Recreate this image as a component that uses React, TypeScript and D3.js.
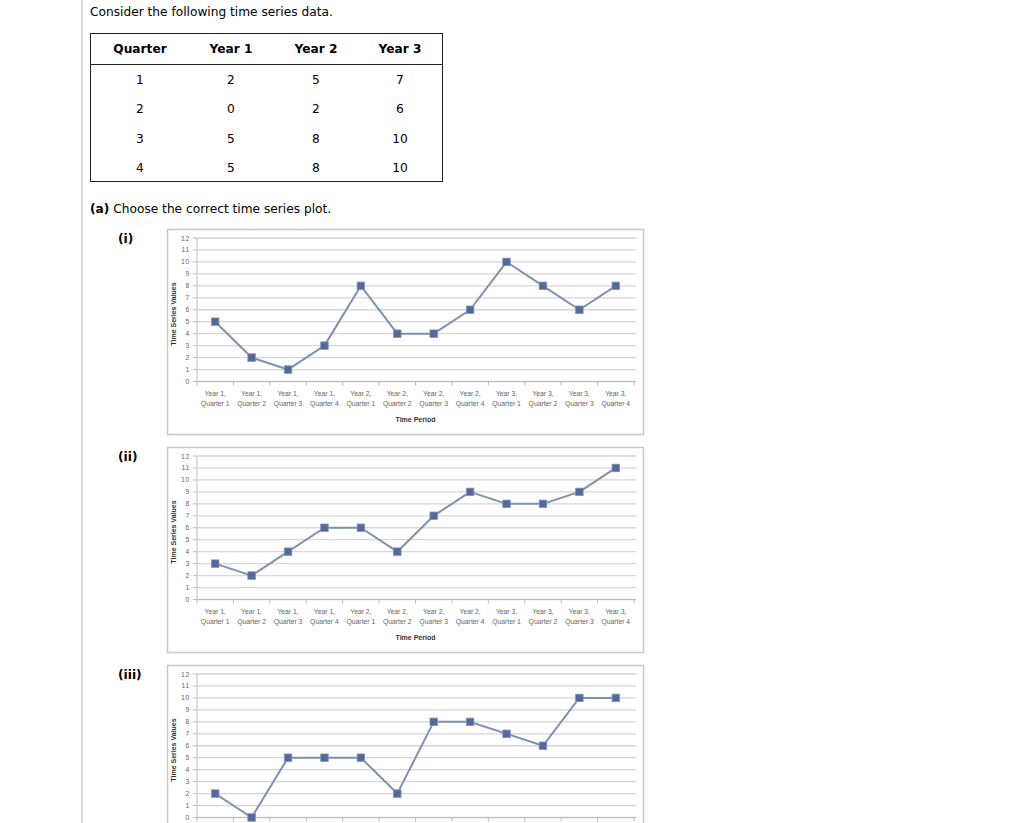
import React from "react";
import * as d3 from "d3";

const quarters = ["1", "2", "3", "4"];
const year1 = [2, 0, 5, 5];
const year2 = [5, 2, 8, 8];
const year3 = [7, 6, 10, 10];
const tableHeaders = ["Quarter", "Year 1", "Year 2", "Year 3"];

const periods = [
  ["Year 1,", "Quarter 1"], ["Year 1,", "Quarter 2"], ["Year 1,", "Quarter 3"], ["Year 1,", "Quarter 4"],
  ["Year 2,", "Quarter 1"], ["Year 2,", "Quarter 2"], ["Year 2,", "Quarter 3"], ["Year 2,", "Quarter 4"],
  ["Year 3,", "Quarter 1"], ["Year 3,", "Quarter 2"], ["Year 3,", "Quarter 3"], ["Year 3,", "Quarter 4"],
];
const seriesI = [5, 2, 1, 3, 8, 4, 4, 6, 10, 8, 6, 8];
const seriesII = [3, 2, 4, 6, 6, 4, 7, 9, 8, 8, 9, 11];
const seriesIII = [2, 0, 5, 5, 5, 2, 8, 8, 7, 6, 10, 10];
const yTicks = [0, 1, 2, 3, 4, 5, 6, 7, 8, 9, 10, 11, 12];
const chartLabels = ["(i)", "(ii)", "(iii)"];
const chartSeries = [seriesI, seriesII, seriesIII];

const PAGE_FONT = "'DejaVu Sans', Verdana, sans-serif";
const CHART_FONT = "'Liberation Sans', Arial, sans-serif";
const PAGE_H = 823;
const FS = 12.2;

function Chart({ top, data, label }: { top: number; data: number[]; label: string }) {
  const idx = periods.map((_, i) => String(i));
  const x = d3.scaleBand<string>().domain(idx).range([197, 634]);
  const y = d3.scaleLinear().domain([0, 12]).range([top + 152.5, top + 9]);
  const cx = (i: number) => (x(String(i)) as number) + x.bandwidth() / 2;
  const line = d3.line<number>().x((_, i) => cx(i)).y((d) => y(d));
  const boundaries = d3.range(13).map((k) => 197 + k * x.bandwidth());
  const showX = top + 180 < PAGE_H;
  const showTitle = top + 195 < PAGE_H;
  return (
    <g>
      <text x={118} y={top + 14} fontFamily={PAGE_FONT} fontWeight="bold" fontSize={FS} fill="#000">{label}</text>
      <rect x={167.5} y={top + 0.5} width={476} height={205} fill="#fff" stroke="#c9c9c9" strokeWidth={1.5} />
      {yTicks.map((t) => (
        <g key={t}>
          <line x1={197} x2={636} y1={y(t)} y2={y(t)} stroke="#d6d6d6" strokeWidth={1.3} />
          <line x1={193} x2={197} y1={y(t)} y2={y(t)} stroke="#bbb" strokeWidth={1} />
          <text x={190} y={y(t) + 2.5} textAnchor="end" fontFamily={CHART_FONT} fontSize={6.8} fill="#666" letterSpacing={0.7}>{t}</text>
        </g>
      ))}
      <line x1={197} x2={197} y1={y(12)} y2={y(0)} stroke="#bbb" strokeWidth={1} />
      <line x1={197} x2={636} y1={y(0)} y2={y(0)} stroke="#bbb" strokeWidth={1} />
      {boundaries.map((b, k) => (
        <line key={k} x1={b} x2={b} y1={y(0)} y2={y(0) + 4} stroke="#bbb" strokeWidth={1} />
      ))}
      {showX && periods.map((p, i) => (
        <text key={i} x={cx(i)} textAnchor="middle" fontFamily={CHART_FONT} fontSize={6.8} fill="#666">
          <tspan x={cx(i)} y={top + 167}>{p[0]}</tspan>
          <tspan x={cx(i)} y={top + 177}>{p[1]}</tspan>
        </text>
      ))}
      {showTitle && (
        <text x={415.5} y={top + 193} textAnchor="middle" fontFamily={CHART_FONT} fontWeight="bold" fontSize={7} fill="#333">Time Period</text>
      )}
      <text transform={`translate(176, ${top + 85}) rotate(-90)`} textAnchor="middle" fontFamily={CHART_FONT} fontWeight="bold" fontSize={7} fill="#333">Time Series Values</text>
      <path d={line(data) || ""} fill="none" stroke="#7f91b0" strokeWidth={2} strokeLinejoin="round" />
      {data.map((d, i) => (
        <rect key={i} x={cx(i) - 3.75} y={y(d) - 3.75} width={7.5} height={7.5} fill="#54699a" stroke="#8293b6" strokeWidth={0.8} />
      ))}
    </g>
  );
}

export default function App() {
  const colX = [140, 231, 316, 400];
  const rowY = [84, 113, 143, 172];
  const rows = quarters.map((q, i) => [q, String(year1[i]), String(year2[i]), String(year3[i])]);
  const chartTops = [229, 447, 665];
  return (
    <svg width={1024} height={PAGE_H} style={{ position: "absolute", left: 0, top: 0, background: "#fff" }}>
      <rect x={0} y={0} width={1024} height={PAGE_H} fill="#fff" />
      <line x1={82} x2={82} y1={0} y2={PAGE_H} stroke="#cfcfcf" strokeWidth={1.5} />
      <text x={90} y={16} fontFamily={PAGE_FONT} fontSize={FS} fill="#000">Consider the following time series data.</text>
      <rect x={90.5} y={33.5} width={352} height={148} fill="none" stroke="#222" strokeWidth={1} />
      <line x1={90.5} x2={442.5} y1={64.5} y2={64.5} stroke="#222" strokeWidth={1} />
      {tableHeaders.map((h, i) => (
        <text key={h} x={colX[i]} y={53} textAnchor="middle" fontFamily={PAGE_FONT} fontWeight="bold" fontSize={FS} fill="#000">{h}</text>
      ))}
      {rows.map((r, ri) =>
        r.map((c, ci) => (
          <text key={`${ri}-${ci}`} x={colX[ci]} y={rowY[ri]} textAnchor="middle" fontFamily={PAGE_FONT} fontSize={FS} fill="#000">{c}</text>
        ))
      )}
      <text x={90} y={213} fontFamily={PAGE_FONT} fontSize={FS} fill="#000">
        <tspan fontWeight="bold">(a)</tspan> Choose the correct time series plot.
      </text>
      {chartTops.map((t, k) => (
        <Chart key={k} top={t} data={chartSeries[k]} label={chartLabels[k]} />
      ))}
    </svg>
  );
}
